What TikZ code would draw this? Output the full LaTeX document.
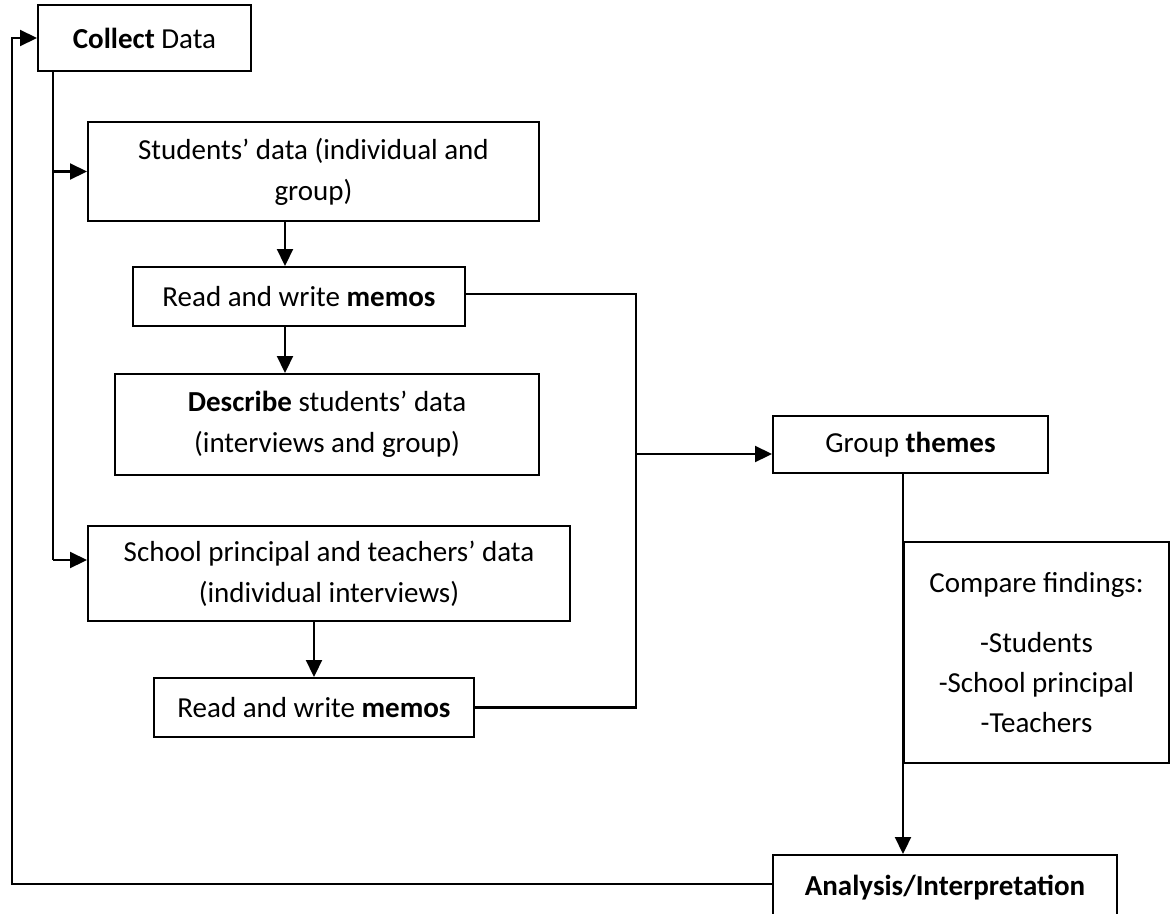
\documentclass[tikz,border=0pt]{standalone}
\usepackage{fontspec}
\setmainfont{Carlito}
\usetikzlibrary{arrows.meta}
\begin{document}
\begin{tikzpicture}[x=1pt,y=-1pt,
  box/.style={draw,line width=2pt,align=center,inner sep=0pt,font=\fontsize{29}{41}\selectfont},
  arr/.style={draw,line width=2.2pt,-{Triangle[length=17pt,width=16pt]}},
  lin/.style={draw,line width=2.2pt}]
\useasboundingbox (0,0) rectangle (1172,913);
\node[box,minimum width=213pt,minimum height=66pt] (collect) at (144.5,38) {\textbf{Collect} Data};
\node[box,minimum width=451pt,minimum height=99pt] (students) at (313.5,171.5) {Students’ data (individual and\\group)};
\node[box,minimum width=332pt,minimum height=59pt] (memos1) at (299,296.5) {Read and write \textbf{memos}};
\node[box,minimum width=424pt,minimum height=101pt] (describe) at (327,424.5) {\textbf{Describe} students’ data\\(interviews and group)};
\node[box,minimum width=482pt,minimum height=95pt] (school) at (329,573.5) {School principal and teachers’ data\\(individual interviews)};
\node[box,minimum width=320pt,minimum height=59pt] (memos2) at (314,707.5) {Read and write \textbf{memos}};
\node[box,minimum width=275pt,minimum height=57pt] (themes) at (910.5,444.5) {Group \textbf{themes}};
\node[box,minimum width=265pt,minimum height=221pt,font=\fontsize{29}{40}\selectfont] (compare) at (1036.5,652.5) {Compare findings:\\[20pt]-Students\\-School principal\\-Teachers};
\node[box,minimum width=344pt,minimum height=66pt] (analysis) at (945,888) {\textbf{Analysis/Interpretation}};

\coordinate (trunk) at (53,71);
\coordinate (drop) at (285,0);
\coordinate (join) at (636,454);
\coordinate (back) at (12,884);

\path[lin] (trunk) -- ([yshift=13.5pt]school.west -| trunk);
\path[arr] (trunk |- students.west) -- (students.west);
\path[arr] ([yshift=13.5pt]school.west -| trunk) -- ([yshift=13.5pt]school.west);
\path[arr] (students.south -| drop) -- (memos1.north -| drop);
\path[arr] (memos1.south -| drop) -- (describe.north -| drop);
\path[arr] (memos2.north |- school.south) -- (memos2.north);
\path[lin] ([yshift=2.5pt]memos1.east) -| (join) |- (memos2.east);
\path[arr] (join) -- (join -| themes.west);
\path[arr] (compare.west |- themes.south) -- (compare.west |- analysis.north);
\path[arr] ([yshift=4pt]analysis.west) -- ([yshift=4pt]analysis.west -| back) |- (collect.west);
\end{tikzpicture}
\end{document}
